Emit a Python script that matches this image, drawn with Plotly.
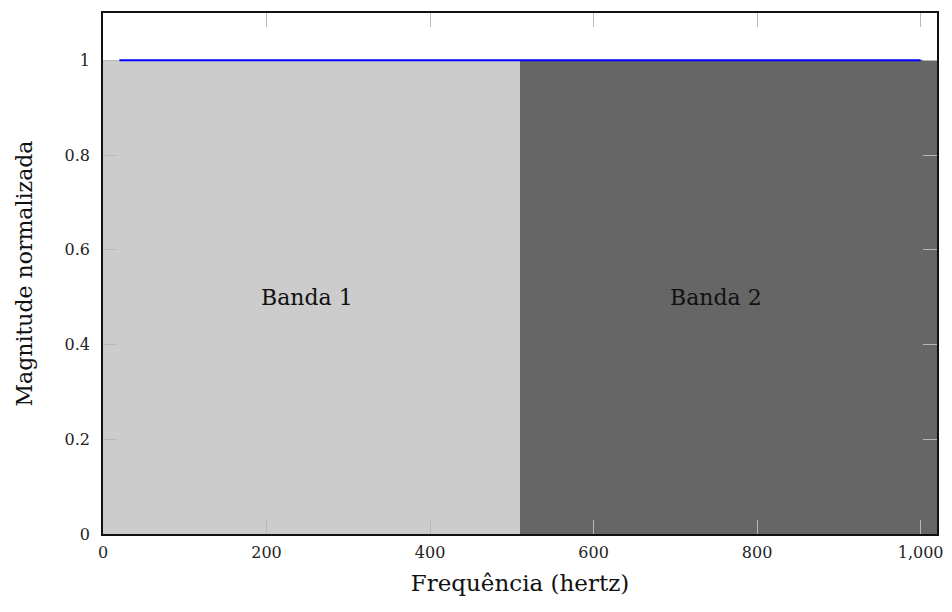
import plotly.graph_objects as go

# Data
band_names = ["Banda 1", "Banda 2"]
band_start = [0, 510]
band_end = [510, 1020]
band_mag = [1, 1]
band_colors = ["#cccccc", "#666666"]
label_x = [250, 750]
label_y = [0.5, 0.5]

line_x = [20, 1000]
line_y = [1, 1]

x_ticks = [0, 200, 400, 600, 800, 1000]
x_ticktext = ["0", "200", "400", "600", "800", "1,000"]
y_ticks = [0, 0.2, 0.4, 0.6, 0.8, 1]
y_ticktext = ["0", "0.2", "0.4", "0.6", "0.8", "1"]

FONT = "DejaVu Serif"

fig = go.Figure()
for name, s, e, m, c in zip(band_names, band_start, band_end, band_mag, band_colors):
    fig.add_trace(go.Bar(
        x=[(s + e) / 2], y=[m], width=[e - s],
        marker=dict(color=c, line=dict(width=0)),
        name=name, showlegend=False, hoverinfo="skip",
    ))

fig.add_trace(go.Scatter(
    x=line_x, y=line_y, mode="lines",
    line=dict(color="#0000ff", width=2), showlegend=False,
))

for name, lx, ly in zip(band_names, label_x, label_y):
    fig.add_annotation(x=lx, y=ly, text=name, showarrow=False,
                       font=dict(family=FONT, size=22, color="#111111"))

axis_common = dict(
    showgrid=False, zeroline=False, automargin=False,
    showline=True, linecolor="#111111", linewidth=1.5, mirror="ticks",
    ticks="inside", ticklen=14, tickcolor="#b8b8b8", tickwidth=1,
    tickfont=dict(family=FONT, size=16, color="#222222"),
)

fig.update_layout(
    width=952, height=612,
    margin=dict(l=103, r=15, t=13, b=78),
    paper_bgcolor="white", plot_bgcolor="white",
    bargap=0, barmode="overlay",
    xaxis=dict(range=[0, 1020], tickvals=x_ticks, ticktext=x_ticktext,
               ticklabelstandoff=3,
               title=dict(text="Frequência (hertz)", font=dict(family=FONT, size=23, color="#111111"), standoff=14),
               **axis_common),
    yaxis=dict(range=[0, 1.1], tickvals=y_ticks, ticktext=y_ticktext,
               ticklabelstandoff=8,
               title=dict(text="Magnitude normalizada", font=dict(family=FONT, size=22, color="#111111"), standoff=26),
               **axis_common),
)

fig.write_html("out.html")
